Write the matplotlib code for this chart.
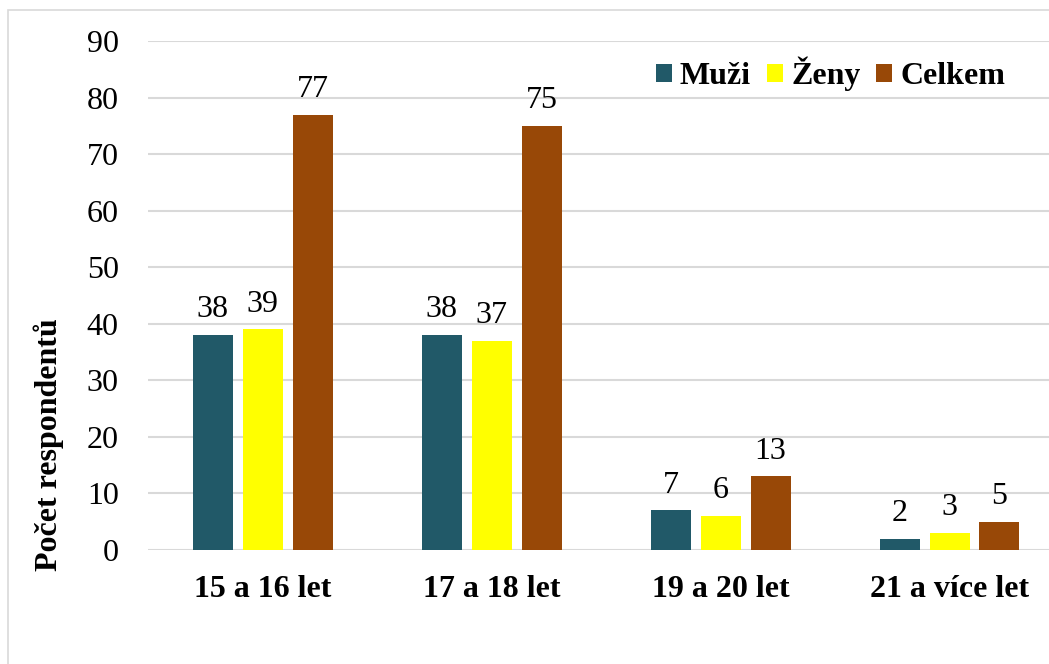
import matplotlib
matplotlib.use("Agg")
import matplotlib.pyplot as plt
import numpy as np
from matplotlib.patches import Rectangle

categories = ["15 a 16 let", "17 a 18 let", "19 a 20 let", "21 a více let"]
series_names = ["Muži", "Ženy", "Celkem"]
muzi = [38, 38, 7, 2]
zeny = [39, 37, 6, 3]
celkem = [77, 75, 13, 5]
yticks = [0, 10, 20, 30, 40, 50, 60, 70, 80, 90]

colors = ["#215968", "#FFFF00", "#984807"]

plt.rcParams['font.family'] = ['Liberation Serif', 'DejaVu Serif']

W, H = 1049, 664
fig = plt.figure(figsize=(W / 100, H / 100), dpi=100)

# outer chart border
fig.patches.append(Rectangle((8 / W, 1 - 1200 / H), 1200 / W, (1200 - 10) / H,
                             transform=fig.transFigure, fill=False,
                             edgecolor="#d9d9d9", linewidth=1.2, zorder=0))

left, right = 148, 1064
bottom, top = 550, 41
ax = fig.add_axes([left / W, 1 - bottom / H, (right - left) / W, (bottom - top) / H])

FS = 23
x = np.arange(len(categories))
bw = 40 / 229
step = 50 / 229
for i, (vals, name, c) in enumerate(zip([muzi, zeny, celkem], series_names, colors)):
    pos = x + (i - 1) * step
    ax.bar(pos, vals, width=bw, color=c, label=name, zorder=3)
    for p, v in zip(pos, vals):
        ax.text(p, v + 1.9, str(v), ha="center", va="bottom", fontsize=FS, color="black")

ax.set_xlim(-0.5, len(categories) - 0.5)
ax.set_ylim(0, 90)
ax.set_yticks(yticks)
ax.set_yticklabels([str(t) for t in yticks], fontsize=FS)
ax.set_xticks(x)
ax.set_xticklabels(categories, fontsize=FS, fontweight="bold")
ax.tick_params(axis="y", length=0, pad=21)
ax.tick_params(axis="x", length=0, pad=18)
ax.grid(axis="y", color="#d9d9d9", linewidth=1.5, zorder=0)
for s in ax.spines.values():
    s.set_visible(False)
ax.set_axisbelow(True)

fig.text(49 / W, 1 - 445 / H, "Počet respondentů", rotation=90, ha="center", va="center",
         fontsize=FS, fontweight="bold")

leg = ax.legend(loc="center left", bbox_to_anchor=(656 / W, 1 - 74 / H),
                bbox_transform=fig.transFigure,
                ncol=3, frameon=False, prop={"size": FS, "weight": "bold"},
                handlelength=0.5, handleheight=0.5, handletextpad=0.25, columnspacing=0.5,
                borderaxespad=0, borderpad=0)

fig.savefig("out.png", dpi=100)
